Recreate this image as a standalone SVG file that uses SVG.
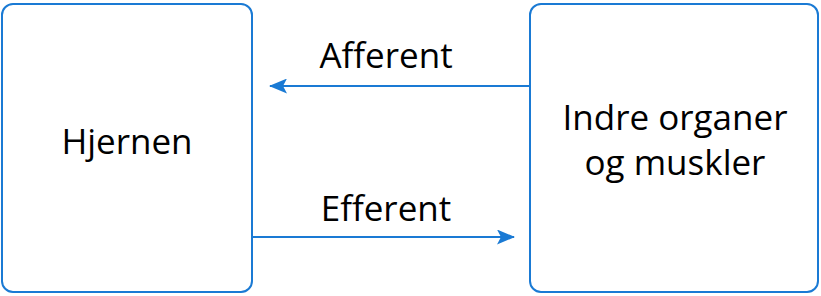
<svg xmlns="http://www.w3.org/2000/svg" width="821" height="296" viewBox="0 0 821 296">
<style>
.box{fill:#fff;stroke:#1a7ad4;stroke-width:2}
.lbl{font-family:"Open Sans","Noto Sans",sans-serif;font-size:35px;fill:#000;text-anchor:middle}
.conn{stroke:#1a7ad4;stroke-width:2;fill:none}
</style>
<defs>
<marker id="ah" viewBox="0 0 18 15" refX="17" refY="7.5" markerWidth="18" markerHeight="15" markerUnits="userSpaceOnUse" orient="auto">
<path d="M0,0 L18,7.5 L0,15 L4,7.5 Z" fill="#1a7ad4"/>
</marker>
</defs>
<rect width="821" height="296" fill="#fff"/>
<g id="hjernen">
<rect class="box" x="2" y="4" width="250" height="288" rx="11"/>
<text class="lbl" x="127" y="154">Hjernen</text>
</g>
<g id="organer">
<rect class="box" x="530" y="4" width="288" height="288" rx="11"/>
<text class="lbl" x="675" y="130">Indre organer</text>
<text class="lbl" x="675" y="175">og muskler</text>
</g>
<g id="connectors">
<line class="conn" x1="530" y1="86" x2="270" y2="86" marker-end="url(#ah)"/>
<text class="lbl" x="386" y="68">Afferent</text>
<line class="conn" x1="252" y1="237" x2="514" y2="237" marker-end="url(#ah)"/>
<text class="lbl" x="386" y="221">Efferent</text>
</g>
</svg>
